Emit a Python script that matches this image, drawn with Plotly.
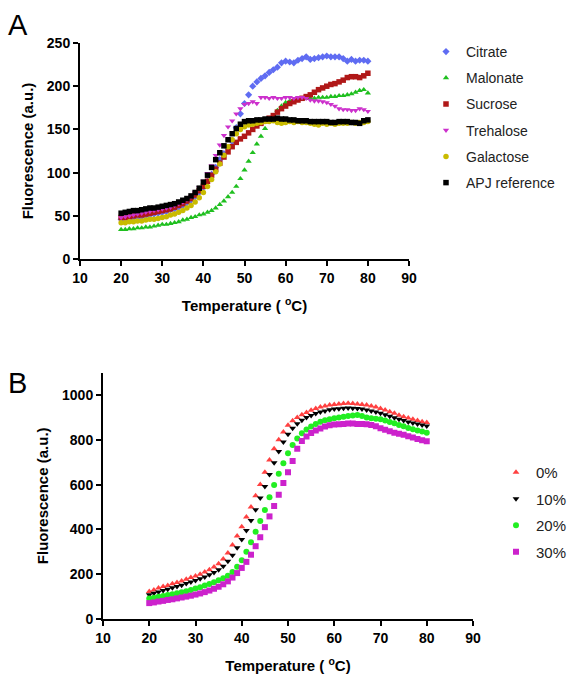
import plotly.graph_objects as go

temps = list(range(20, 81))

# Panel A
citrate = [46,47,47,48,48,49,50,51,52,53,54,55,57,58,60,62,65,68,72,77,83,90,98,106,115,122,128,136,152,168,180,190,200,205,209,212,216,219,222,227,229,228,227,230,232,234,231,232,233,234,235,234,234,234,232,229,231,229,230,230,229]
malonate = [34,34,35,35,36,36,37,37,38,39,40,40,41,42,43,45,46,48,49,51,52,54,56,59,63,67,72,77,84,93,103,113,123,133,142,151,159,166,172,177,181,183,184,185,185,186,186,186,187,187,187,188,188,189,189,190,191,193,195,196,192]
sucrose = [48,48,49,50,51,51,52,53,54,55,56,57,58,60,62,64,67,70,74,79,84,90,97,104,111,118,124,130,135,139,142,146,150,154,157,160,163,166,170,174,177,180,182,184,186,188,190,193,196,198,200,202,203,205,207,210,211,211,210,212,215]
trehalose = [48,49,50,51,52,53,54,55,56,57,58,59,60,62,64,66,69,72,77,83,90,99,108,120,132,143,153,160,168,174,179,180,182,180,187,187,186,187,186,186,187,187,186,187,187,186,184,183,183,182,181,179,177,174,173,173,172,172,174,173,171]
galactose = [42,42,43,43,44,44,45,46,46,47,48,49,51,52,54,56,59,62,66,71,77,84,92,101,110,120,130,138,145,150,153,155,156,157,158,159,159,160,158,157,158,159,158,159,158,158,157,156,155,157,156,157,156,157,157,157,158,157,158,158,159]
apj = [53,54,55,56,56,57,58,59,59,60,61,62,63,64,66,68,70,73,77,82,89,97,106,115,123,131,138,145,151,156,159,160,160,161,161,162,162,162,163,162,162,161,161,160,160,160,159,159,159,159,159,158,158,159,159,159,158,158,157,160,161]

# Panel B
p0 = [123,130,138,145,150,157,163,170,177,185,192,200,210,220,232,247,268,295,330,370,412,455,500,550,600,655,710,760,800,835,865,885,900,912,922,932,940,946,951,955,958,960,962,963,962,960,958,955,951,946,940,933,925,918,910,903,897,892,886,881,877]
p10 = [108,115,121,127,133,139,145,151,158,165,172,180,188,197,208,220,236,258,285,318,355,395,440,488,540,592,645,698,748,790,825,852,872,887,899,909,917,924,929,934,937,939,941,942,941,940,937,933,929,924,918,912,905,898,892,886,880,875,870,866,862]
p20 = [91,95,99,103,107,111,115,119,124,130,136,142,149,156,164,173,182,193,210,233,262,300,343,390,438,487,543,598,648,695,740,777,806,829,846,859,871,881,887,892,896,900,903,906,909,911,906,900,896,894,892,886,880,874,866,860,853,847,842,837,832]
p30 = [71,74,78,81,85,88,92,96,100,104,109,114,120,127,135,144,155,168,185,205,228,255,287,325,365,410,458,505,555,607,655,705,760,795,815,830,842,851,859,865,868,869,871,873,873,871,870,869,866,860,852,845,838,832,827,822,816,810,804,798,793]

series_a = [
    ("Citrate", citrate, "#5f6cf2", "diamond"),
    ("Malonate", malonate, "#1fbf1f", "triangle-up"),
    ("Sucrose", sucrose, "#b01818", "square"),
    ("Trehalose", trehalose, "#cc30cc", "triangle-down"),
    ("Galactose", galactose, "#c9bb00", "circle"),
    ("APJ reference", apj, "#000000", "square"),
]
series_b = [
    ("0%", p0, "#ff4040", "triangle-up"),
    ("10%", p10, "#000000", "triangle-down"),
    ("20%", p20, "#22ee22", "circle"),
    ("30%", p30, "#cc22cc", "square"),
]

W, H = 583, 686
FONT = "Arial, Liberation Sans, sans-serif"

fig = go.Figure()
for i, (name, vals, col, sym) in enumerate(series_a):
    fig.add_trace(go.Scatter(x=temps, y=vals, mode="markers", name=name,
                             marker=dict(color=col, symbol=sym, size=5.5, line=dict(width=0)),
                             xaxis="x", yaxis="y", legend="legend", legendgroup="a%d" % i))
for i, (name, vals, col, sym) in enumerate(series_b):
    fig.add_trace(go.Scatter(x=temps, y=vals, mode="markers", name=name,
                             marker=dict(color=col, symbol=sym, size=6, line=dict(width=0)),
                             xaxis="x2", yaxis="y2", legend="legend2", legendgroup="b%d" % i))

axis_common = dict(showline=True, linecolor="black", linewidth=2, ticks="outside",
                   ticklen=5, tickwidth=2, tickcolor="black", showgrid=False, zeroline=False,
                   automargin=False,
                   tickfont=dict(family=FONT, size=14, color="black", weight="bold"),
                   title_font=dict(family=FONT, size=15, color="black", weight="bold"))

xtitle = "Temperature ( <sup>o</sup>C)"
fig.update_layout(
    width=W, height=H, margin=dict(l=0, r=0, t=0, b=0, autoexpand=False),
    paper_bgcolor="white", plot_bgcolor="white",
    font=dict(family=FONT, color="black"),
    xaxis=dict(domain=[80/W, 409/W], range=[10, 90], dtick=10, anchor="y",
               title=dict(text=xtitle, standoff=16), **axis_common),
    yaxis=dict(domain=[1-259/H, 1-43/H], range=[0, 250], dtick=50, anchor="x",
               title=dict(text="Fluorescence (a.u.)", standoff=10), **axis_common),
    xaxis2=dict(domain=[103/W, 473/W], range=[10, 90], dtick=10, anchor="y2",
                title=dict(text=xtitle, standoff=16), **axis_common),
    yaxis2=dict(domain=[1-619/H, 1-372.6/H], range=[0, 1100], dtick=200, anchor="x2",
                title=dict(text="Fluorescence (a.u.)", standoff=10), **axis_common),
    legend=dict(x=426/W, y=1-36/H, xanchor="left", yanchor="top", tracegroupgap=5,
                font=dict(family=FONT, size=14, color="#222"), bgcolor="rgba(0,0,0,0)"),
    legend2=dict(x=496/W, y=1-456/H, xanchor="left", yanchor="top", tracegroupgap=4,
                 font=dict(family=FONT, size=15, color="#222"), bgcolor="rgba(0,0,0,0)"),
    annotations=[
        dict(text="A", x=6/W, y=1-25/H, xref="paper", yref="paper", showarrow=False,
             xanchor="left", yanchor="middle", font=dict(family=FONT, size=29, color="black")),
        dict(text="B", x=6/W, y=1-383/H, xref="paper", yref="paper", showarrow=False,
             xanchor="left", yanchor="middle", font=dict(family=FONT, size=29, color="black")),
    ],
)

fig.write_html("out.html", config={"displayModeBar": False},
               post_script="document.body.style.margin='0';")
